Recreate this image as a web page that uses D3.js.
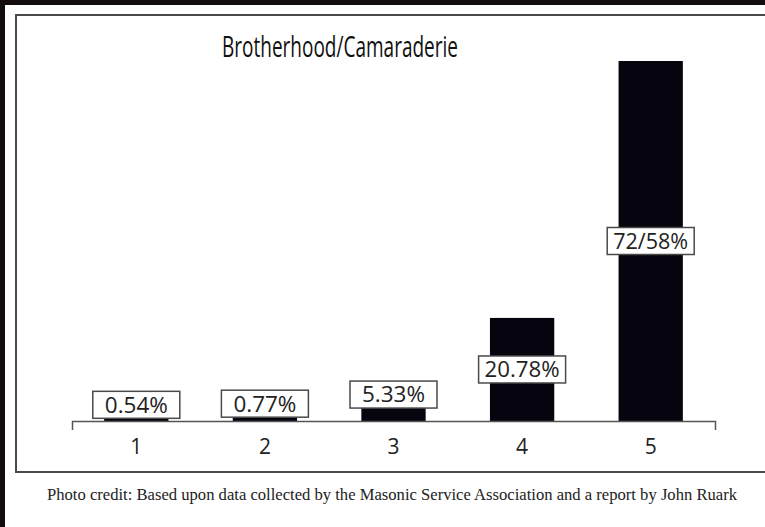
<!DOCTYPE html>
<html><head><meta charset="utf-8">
<script src="https://cdn.jsdelivr.net/npm/d3@7"></script>
<style>html,body{margin:0;padding:0;background:#fff;}svg{display:block;}</style>
</head><body>
<script>
const categories = ["1", "2", "3", "4", "5"];
const values = [0.54, 0.77, 5.33, 20.78, 72.58];
const valueLabels = ["0.54%", "0.77%", "5.33%", "20.78%", "72/58%"];
const title = "Brotherhood/Camaraderie";
const credit = "Photo credit: Based upon data collected by the Masonic Service Association and a report by John Ruark";

const W = 765, H = 527;
const svg = d3.select("body").append("svg").attr("width", W).attr("height", H);

// dark photo frame
svg.append("rect").attr("x",0).attr("y",0).attr("width",W).attr("height",H).attr("fill","#140d0e");
svg.append("rect").attr("x",5).attr("y",5).attr("width",W-5).attr("height",H-5).attr("fill","#ffffff");
// chart box
svg.append("rect").attr("x",16).attr("y",15).attr("width",W).attr("height",457)
  .attr("fill","#fff").attr("stroke","#4a4a4a").attr("stroke-width",2);

const x = d3.scaleBand().domain(categories).range([72, 715]).paddingInner(0.5).paddingOuter(0.25);
const y = d3.scaleLinear().domain([0, d3.max(values)]).range([421, 61]);

const g = svg.append("g");
g.selectAll("rect.bar").data(values).join("rect").attr("class","bar")
  .attr("x",(d,i)=>x(categories[i])).attr("width",x.bandwidth())
  .attr("y",d=>y(d)).attr("height",d=>y(0)-y(d)).attr("fill","#05040f");

const axis = d3.axisBottom(x).tickSizeInner(0).tickSizeOuter(9).tickPadding(18);
const ag = svg.append("g").attr("transform","translate(0,421)").call(axis);
ag.select(".domain").attr("stroke","#555").attr("stroke-width",1.5);
ag.selectAll("text").attr("font-family","'Open Sans', sans-serif").attr("font-size",21).attr("fill","#222");

// value labels
const labH = 27, labW = 87;
values.forEach((v,i)=>{
  const cx = x(categories[i]) + x.bandwidth()/2;
  const top = y(v), h = y(0)-y(v);
  let cy;
  if (h > 60) cy = top + h/2;
  else if (h > 20) cy = top;
  else cy = top - labH/2;
  svg.append("rect").attr("x",cx-labW/2).attr("y",cy-labH/2).attr("width",labW).attr("height",labH)
    .attr("fill","#fff").attr("stroke","#4a4a4a").attr("stroke-width",1.5);
  svg.append("text").attr("x",cx).attr("y",cy).attr("dy","0.36em").attr("text-anchor","middle")
    .attr("font-family","'Open Sans', sans-serif").attr("font-size",22).attr("fill","#222")
    .attr("textLength", valueLabels[i].length > 5 ? 75 : 63).attr("lengthAdjust","spacingAndGlyphs")
    .text(valueLabels[i]);
});

svg.append("text").attr("x",340).attr("y",57).attr("text-anchor","middle")
  .attr("font-family","'Open Sans', sans-serif").attr("font-size",29).attr("fill","#111")
  .attr("textLength",236).attr("lengthAdjust","spacingAndGlyphs").text(title);

svg.append("text").attr("x",392).attr("y",500).attr("text-anchor","middle")
  .attr("font-family","'Liberation Serif', serif").attr("font-size",17).attr("fill","#222")
  .attr("textLength",690).attr("lengthAdjust","spacingAndGlyphs").text(credit);
</script>
</body></html>
